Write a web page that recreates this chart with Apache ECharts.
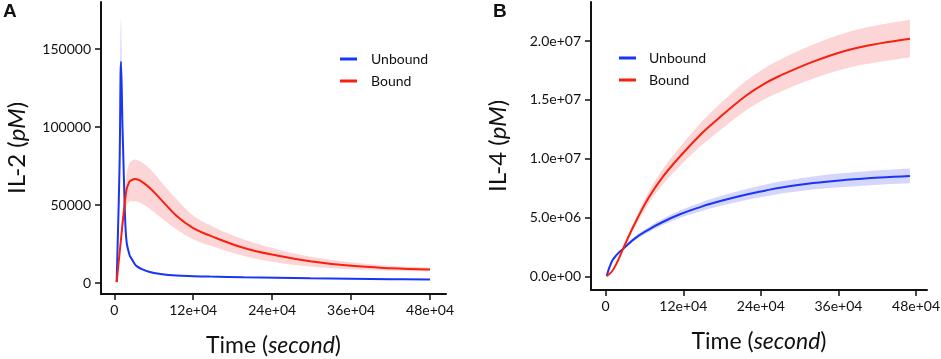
<!DOCTYPE html>
<html>
<head>
<meta charset="utf-8">
<script src="https://cdn.jsdelivr.net/npm/echarts@6/dist/echarts.min.js"></script>
<style>
  html, body { margin: 0; padding: 0; background: #fff; }
  #chart { width: 941px; height: 359px; }
</style>
</head>
<body>
<div id="chart"></div>
<script>
// panel A : IL-2
const timeA = [3600, 8000, 10200, 12500, 13700, 14800, 16800, 18900, 23000, 23900, 31500, 34000, 40000, 54000, 70000, 94900, 120000, 145600, 196200, 247000, 297600, 360000, 420000, 480000];
const unboundA = [600, 75000, 142000, 100000, 82000, 64200, 38000, 25800, 18200, 17200, 11900, 10800, 9300, 7000, 5800, 4800, 4400, 4100, 3700, 3400, 3000, 2700, 2450, 2250];
const unboundA_lo = [500, 66000, 122000, 88000, 72000, 58000, 35000, 24000, 17000, 16000, 11100, 10100, 8700, 6500, 5400, 4400, 4100, 3800, 3400, 3100, 2700, 2400, 2200, 2000];
const unboundA_hi = [700, 88000, 169000, 112000, 92000, 70000, 41000, 27800, 19400, 18400, 12700, 11500, 9900, 7500, 6200, 5200, 4700, 4400, 4000, 3700, 3300, 3000, 2700, 2500];
const boundA = [600, 19000, 28000, 38000, 42800, 47000, 54500, 60500, 65000, 65400, 66800, 66600, 65500, 61000, 54000, 43000, 35200, 30400, 22600, 17600, 14000, 11000, 9500, 8650];
const boundA_lo = [600, 17500, 25500, 33500, 37000, 40000, 45500, 50000, 52300, 52500, 52400, 52300, 51300, 47700, 42200, 34400, 28100, 24000, 17500, 13200, 10600, 8800, 7900, 7500];
const boundA_hi = [600, 20500, 30500, 43000, 48500, 54000, 63000, 71000, 77000, 77500, 79200, 79000, 78000, 73500, 65500, 53700, 43300, 37000, 28000, 21700, 17000, 13300, 11000, 9800];

// panel B : IL-4 (units of 1e6 pM)
const timeB = [1500, 9300, 17000, 27200, 45300, 65900, 86600, 114900, 148400, 166400, 189600, 218000, 246400, 269500, 321000, 372700, 424200, 470600];
const unboundB = [0.05, 1.27, 1.85, 2.38, 3.25, 3.98, 4.60, 5.30, 5.95, 6.25, 6.60, 6.98, 7.30, 7.55, 7.95, 8.22, 8.42, 8.55];
const unboundB_lo = [0.05, 1.22, 1.78, 2.28, 3.09, 3.76, 4.34, 4.99, 5.58, 5.85, 6.17, 6.51, 6.80, 7.03, 7.39, 7.63, 7.81, 7.92];
const unboundB_hi = [0.05, 1.32, 1.92, 2.48, 3.41, 4.20, 4.86, 5.61, 6.32, 6.65, 7.03, 7.45, 7.80, 8.07, 8.51, 8.81, 9.03, 9.18];
const boundB = [0.05, 0.42, 1.14, 2.41, 4.53, 6.65, 8.35, 10.2, 12.15, 13.05, 14.15, 15.4, 16.4, 17.05, 18.25, 19.2, 19.8, 20.2];
const boundB_lo = [0.05, 0.39, 1.08, 2.28, 4.23, 6.15, 7.70, 9.40, 11.15, 11.97, 12.98, 14.15, 15.08, 15.68, 16.80, 17.68, 18.23, 18.60];
const boundB_hi = [0.05, 0.45, 1.20, 2.54, 4.83, 7.15, 9.00, 11.00, 13.15, 14.13, 15.32, 16.65, 17.72, 18.42, 19.70, 20.72, 21.37, 21.80];
const unitB = 1e6;

const xTicks = [0, 120000, 240000, 360000, 480000];
const yTicksA = [0, 50000, 100000, 150000];
const yTicksB = [0, 5e6, 10e6, 15e6, 20e6];

const BLUE = "#1b35f5";
const RED = "#f8200f";
const BLUE_BAND = "rgba(100, 110, 240, 0.28)";
const RED_BAND = "rgba(245, 120, 120, 0.30)";
const FONT = "Lato";
const INK = "#111";
const SMOOTH = 0.4;

function scale(arr, k) {
  return arr.map((v) => v * k);
}

// band = lower edge + (upper - lower) stacked on it.
// value is put in dim 0 so that the stack goes on y, not on x
function band(idx, t, lo, hi, color, key) {
  const common = {
    type: "line", xAxisIndex: idx, yAxisIndex: idx, stack: key,
    encode: { x: 1, y: 0 }, symbol: "none", smooth: SMOOTH,
    lineStyle: { opacity: 0 }, silent: true, z: 1,
  };
  return [
    Object.assign({}, common, { data: t.map((x, i) => [lo[i], x]) }),
    Object.assign({}, common, {
      data: t.map((x, i) => [hi[i] - lo[i], x]),
      areaStyle: { color: color, opacity: 1 },
    }),
  ];
}

function line(idx, name, t, v, color) {
  return {
    type: "line", name: name, xAxisIndex: idx, yAxisIndex: idx,
    data: t.map((x, i) => [x, v[i]]), symbol: "none", smooth: SMOOTH,
    lineStyle: { color: color, width: 2 }, itemStyle: { color: color }, z: 3,
  };
}

function nameStyle(size) {
  return {
    fontFamily: FONT, fontSize: size, color: INK,
    rich: { i: { fontFamily: FONT, fontSize: size, fontStyle: "italic", color: INK } },
  };
}

const axisCommon = {
  axisLine: { show: true, onZero: false, lineStyle: { color: INK, width: 2 } },
  axisTick: { show: true, length: 6, lineStyle: { color: INK, width: 1.5 } },
  splitLine: { show: false },
  nameLocation: "middle",
};

function xAxis(idx, min, max) {
  return Object.assign({}, axisCommon, {
    type: "value", gridIndex: idx, min: min, max: max,
    name: "Time ({i|second})", nameGap: 40, nameTextStyle: nameStyle(23),
    axisTick: Object.assign({}, axisCommon.axisTick, { customValues: xTicks }),
    axisLabel: {
      customValues: xTicks, margin: 9, fontFamily: FONT, fontSize: 14, color: INK,
      formatter: (v) => (v === 0 ? "0" : v / 1e4 + "e+04"),
    },
  });
}

function yAxis(idx, min, max, ticks, name, gap, fmt) {
  return Object.assign({}, axisCommon, {
    type: "value", gridIndex: idx, min: min, max: max,
    name: name, nameGap: gap, nameTextStyle: nameStyle(24),
    axisTick: Object.assign({}, axisCommon.axisTick, { customValues: ticks }),
    axisLabel: { customValues: ticks, margin: 10, fontFamily: FONT, fontSize: 14, color: INK, formatter: fmt },
  });
}

const sciFmt = (v) => v.toExponential(1).replace(/e([+-])(\d)$/, "e$10$2");

const chart = echarts.init(document.getElementById("chart"), null, { renderer: "canvas" });
chart.setOption({
  backgroundColor: "#fff",
  animation: false,
  title: [
    { text: "A", left: 3, top: 2, padding: 0, textStyle: { fontFamily: "Liberation Sans", fontWeight: "bold", fontSize: 19, color: INK } },
    { text: "B", left: 493, top: 2, padding: 0, textStyle: { fontFamily: "Liberation Sans", fontWeight: "bold", fontSize: 19, color: INK } },
  ],
  legend: [
    {
      data: ["Unbound", "Bound"], orient: "vertical", left: 340, top: 52, padding: 0,
      icon: "rect", itemWidth: 17, itemHeight: 3, itemGap: 8,
      textStyle: { fontFamily: FONT, fontSize: 14, color: INK, padding: [0, 0, 0, 9] },
      selectedMode: false,
    },
    {
      data: ["Unbound", "Bound"], orient: "vertical", left: 619, top: 51, padding: 0,
      icon: "rect", itemWidth: 17, itemHeight: 3, itemGap: 8,
      textStyle: { fontFamily: FONT, fontSize: 14, color: INK, padding: [0, 0, 0, 8] },
      selectedMode: false,
    },
  ],
  grid: [
    { left: 101, top: 2, width: 345, height: 292, outerBoundsMode: "none" },
    { left: 591, top: 2, width: 336, height: 288, outerBoundsMode: "none" },
  ],
  xAxis: [xAxis(0, -20200, 504300), xAxis(1, -22700, 497000)],
  yAxis: [
    yAxis(0, -7060, 180300, yTicksA, "IL-2 ({i|pM})", 72, (v) => String(v)),
    yAxis(1, -1.129e6, 2.331e7, yTicksB, "IL-4 ({i|pM})", 81, sciFmt),
  ],
  series: [
    ...band(0, timeA, boundA_lo, boundA_hi, RED_BAND, "rbA"),
    ...band(0, timeA, unboundA_lo, unboundA_hi, BLUE_BAND, "ubA"),
    ...band(1, timeB, scale(boundB_lo, unitB), scale(boundB_hi, unitB), RED_BAND, "rbB"),
    ...band(1, timeB, scale(unboundB_lo, unitB), scale(unboundB_hi, unitB), BLUE_BAND, "ubB"),
    line(0, "Unbound", timeA, unboundA, BLUE),
    line(0, "Bound", timeA, boundA, RED),
    line(1, "Unbound", timeB, scale(unboundB, unitB), BLUE),
    line(1, "Bound", timeB, scale(boundB, unitB), RED),
  ],
});
</script>
</body>
</html>
